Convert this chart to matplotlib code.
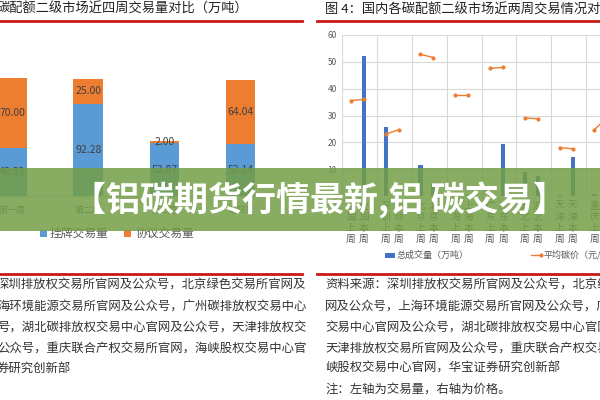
import matplotlib
matplotlib.use("Agg")
import matplotlib.pyplot as plt
import matplotlib.transforms as mtransforms
from matplotlib.patches import Rectangle
from matplotlib.lines import Line2D
import numpy as np

plt.rcParams['font.family'] = ['Noto Sans CJK SC', 'DejaVu Sans']

# left chart: weekly volume of the secondary market (万吨)
weeks = ["第一周", "第二周", "第三周", "第四周"]
listed_vol = [48.33, 92.28, 52.87, 52.14]
agreement_vol = [70.00, 25.00, 2.00, 64.04]

# right chart: last week / this week per market
markets = ["全国", "深圳", "北京", "上海", "广东", "湖北", "天津", "重庆"]
vol_last = [0.4, 25.8, 11.4, 0.3, 0.5, 9.1, 0.3, 0.8]
vol_this = [52.0, 0.2, 4.9, 0.3, 19.5, 7.3, 14.4, 0.6]
price_last = [71.2, 46.2, 105.6, 75.2, 95.2, 58.2, 36.2, 49.6]
price_this = [72.0, 49.4, 103.2, 75.2, 95.8, 57.6, 35.2, 58.6]

left_title = "碳配额二级市场近四周交易量对比（万吨）"
right_title = "图 4：国内各碳配额二级市场近两周交易情况对比"
left_source = [
    "深圳排放权交易所官网及公众号，北京绿色交易所官网及",
    "海环境能源交易所官网及公众号，广州碳排放权交易中心",
    "号，湖北碳排放权交易中心官网及公众号，天津排放权交",
    "公众号，重庆联合产权交易所官网，海峡股权交易中心官",
    "券研究创新部",
]
right_source = [
    "资料来源：深圳排放权交易所官网及公众号，北京绿色",
    "网及公众号，上海环境能源交易所官网及公众号，广州",
    "交易中心官网及公众号，湖北碳排放权交易中心官网及",
    "天津排放权交易所官网及公众号，重庆联合产权交易所",
    "峡股权交易中心官网，华宝证券研究创新部",
    "注：左轴为交易量，右轴为价格。",
]
banner_text = "【铝碳期货行情最新,铝 碳交易】"

W, H = 600, 400
BLUE = "#5b9bd5"
DBLUE = "#4472c4"
ORANGE = "#ed7d31"
GRAY = "#595959"
RED = "#c81818"


def fx(x):
    return x / W


def fy(y):
    return 1 - y / H


def rect(x0, y0, x1, y1):
    return [x0 / W, 1 - y1 / H, (x1 - x0) / W, (y1 - y0) / H]


fig = plt.figure(figsize=(6, 4), dpi=100)
fig.patch.set_facecolor("white")

# ---- left stacked bar chart ----
ax1 = fig.add_axes(rect(0, 36, 300, 196))
x = np.arange(len(weeks))
ax1.bar(x, listed_vol, width=0.39, color=BLUE)
ax1.bar(x, agreement_vol, width=0.39, bottom=listed_vol, color=ORANGE)
for i in range(len(weeks)):
    ax1.text(x[i], listed_vol[i] / 2, f"{listed_vol[i]:.2f}", ha="center",
             va="center", fontsize=7.5, color="#404040")
    ax1.text(x[i], listed_vol[i] + agreement_vol[i] / 2, f"{agreement_vol[i]:.2f}",
             ha="center", va="center", fontsize=7.5, color="#404040")
ax1.set_xlim(-12 / 76.2, (300 - 12) / 76.2)
ax1.set_ylim(0, 160)
ax1.set_xticks([])
ax1.set_yticks([])
for s in ["top", "left", "right"]:
    ax1.spines[s].set_visible(False)
ax1.spines["bottom"].set_color("#d9d9d9")
tr1 = mtransforms.blended_transform_factory(ax1.transData, fig.transFigure)
for i, w in enumerate(weeks):
    ax1.text(x[i], fy(210), w, transform=tr1, ha="center", va="center",
             fontsize=6.5, color=GRAY)

# ---- right bar + price chart ----
gw = 34.8
ax2 = fig.add_axes(rect(342.3, 35, 342.3 + gw * 9, 196.1))
g = np.arange(len(markets))
xs_last = g + 0.245
xs_this = g + 0.62
ax2.bar(xs_last, vol_last, width=0.12, color=DBLUE, zorder=3)
ax2.bar(xs_this, vol_this, width=0.12, color=DBLUE, zorder=3)
ax2.set_xlim(0, 9)
ax2.set_ylim(0, 60)
ax2.set_yticks(np.arange(0, 61, 10))
ax2.set_xticks(np.arange(0, 10))
ax2.set_xticklabels([])
ax2.grid(True, color="#d9d9d9", lw=0.8)
ax2.tick_params(length=0, labelsize=6, labelcolor=GRAY, pad=4)
for s in ax2.spines.values():
    s.set_visible(False)

ax3 = ax2.twinx()
ax3.set_ylim(0, 120)
for i in range(len(markets)):
    ax3.plot([xs_last[i], xs_this[i]], [price_last[i], price_this[i]],
             color=ORANGE, lw=1, marker="o", ms=2)
ax3.set_yticks([])
for s in ax3.spines.values():
    s.set_visible(False)

tr2 = mtransforms.blended_transform_factory(ax2.transData, fig.transFigure)
for i, m in enumerate(markets):
    for pos, wk in [(xs_last[i], "上"), (xs_this[i], "本")]:
        ax2.text(pos, fy(222.5), "\n".join(list(m) + [wk, "周"]), transform=tr2,
                 ha="center", va="center", fontsize=7, linespacing=1.13, color=GRAY)

# ---- legends ----
fig.patches.append(Rectangle((fx(40), fy(236.5)), 7 / W, 7 / H, transform=fig.transFigure,
                             facecolor=BLUE, edgecolor="none"))
fig.text(fx(50), fy(233), "挂牌交易量", fontsize=8.5, color=GRAY, va="center")
fig.patches.append(Rectangle((fx(124), fy(236.5)), 7 / W, 7 / H, transform=fig.transFigure,
                             facecolor=ORANGE, edgecolor="none"))
fig.text(fx(135), fy(233), "协议交易量", fontsize=8.5, color=GRAY, va="center")

fig.patches.append(Rectangle((fx(385), fy(257.5)), 10 / W, 5 / H, transform=fig.transFigure,
                             facecolor=DBLUE, edgecolor="none"))
fig.text(fx(397), fy(255), "总成交量（万吨）", fontsize=6.5, color=GRAY, va="center")
fig.lines.append(Line2D([fx(531), fx(541)], [fy(255), fy(255)], transform=fig.transFigure,
                        color=ORANGE, lw=1, marker="o", ms=2, markevery=[1]))
fig.text(fx(543), fy(255), "平均碳价（元/吨）", fontsize=6.5, color=GRAY, va="center")

# ---- titles and rules ----
fig.text(fx(-3), fy(9), left_title, fontsize=9.5, color="#222222", va="center")
fig.text(fx(325), fy(10), right_title, fontsize=9.5, color="#222222", va="center")
for (a, b, yy) in [(0, 302, 20.5), (317, 600, 20.5), (0, 302, 273.5), (317, 600, 273.5)]:
    fig.lines.append(Line2D([fx(a), fx(b)], [fy(yy), fy(yy)], transform=fig.transFigure,
                            color=RED, lw=2))

line_y = [285, 306.7, 328.3, 349, 368.3, 390]
for i, t in enumerate(left_source):
    fig.text(fx(-3), fy(line_y[i]), t, fontsize=8.9, color="#333333", va="center")
for i, t in enumerate(right_source):
    fig.text(fx(325), fy(line_y[i]), t, fontsize=8.9, color="#333333", va="center")

# ---- green banner ----
fig.patches.append(Rectangle((0, fy(231)), 1, 63 / H, transform=fig.transFigure,
                             facecolor=(0.45, 0.62, 0.28), alpha=0.85, edgecolor="none",
                             zorder=10))
fig.text(fx(319), fy(200), banner_text, fontsize=24.5, fontweight="bold", color="white",
         ha="center", va="center", zorder=11)

fig.savefig("out.png", dpi=100)
